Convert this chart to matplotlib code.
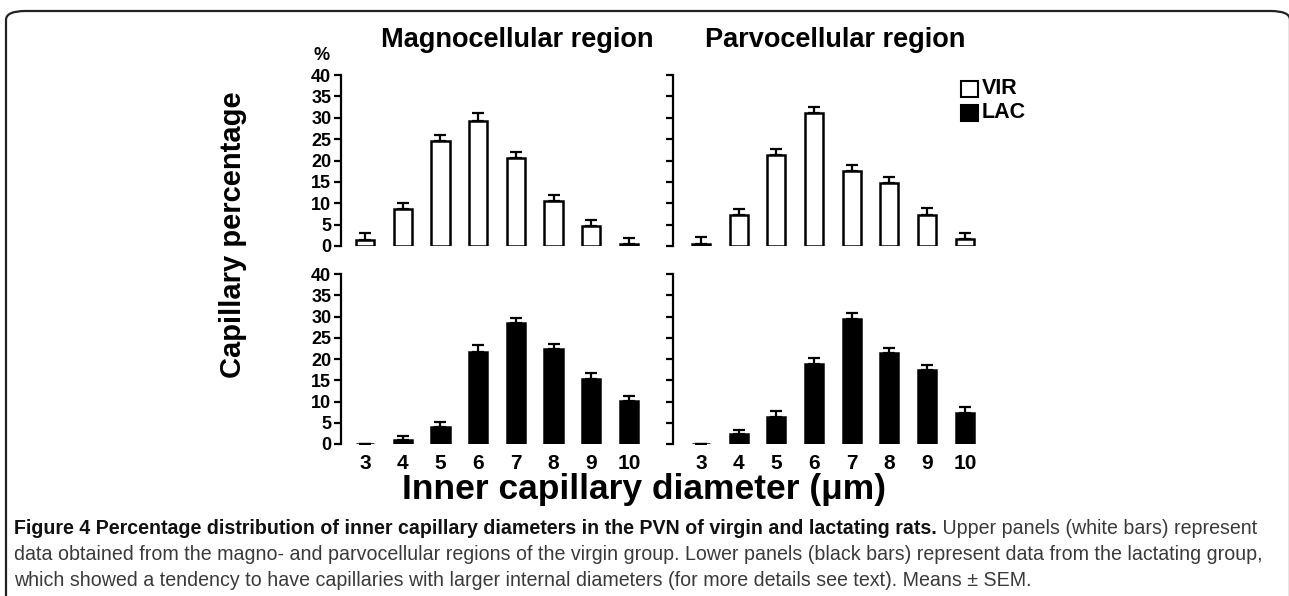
import matplotlib
matplotlib.use("Agg")
import matplotlib.pyplot as plt
from matplotlib.patches import FancyBboxPatch, Rectangle
import numpy as np

plt.rcParams['font.family'] = ['Liberation Sans', 'DejaVu Sans']

# data (percent)
diam = [3, 4, 5, 6, 7, 8, 9, 10]
vir_magno = [1.4, 8.6, 24.6, 29.2, 20.5, 10.5, 4.7, 0.5]
vir_magno_sem = [1.6, 1.4, 1.4, 1.8, 1.6, 1.4, 1.3, 1.3]
vir_parvo = [0.4, 7.2, 21.3, 31.0, 17.5, 14.8, 7.2, 1.6]
vir_parvo_sem = [1.7, 1.4, 1.3, 1.4, 1.5, 1.4, 1.7, 1.4]
lac_magno = [0.0, 0.9, 4.0, 21.7, 28.5, 22.4, 15.3, 10.2]
lac_magno_sem = [0.0, 1.1, 1.1, 1.5, 1.2, 1.2, 1.5, 1.0]
lac_parvo = [0.0, 2.3, 6.4, 18.9, 29.5, 21.4, 17.3, 7.4]
lac_parvo_sem = [0.0, 1.0, 1.3, 1.4, 1.3, 1.3, 1.4, 1.2]

W, H = 1289, 596
fig = plt.figure(figsize=(W / 100, H / 100), dpi=100)

def fx(px):
    return px / W

def fy(py):
    return 1 - py / H

def panel(rect, xlim, vals, sem, color, show_ylab, show_xlab):
    ax = fig.add_axes(rect)
    ax.bar(diam, vals, width=0.48, color=color, edgecolor='black', linewidth=1.8, zorder=2)
    ax.errorbar(diam, vals, yerr=[np.zeros(len(sem)), sem], fmt='none', ecolor='black',
                elinewidth=1.6, capsize=4, capthick=1.6, zorder=1)
    ax.set_xlim(*xlim)
    ax.set_ylim(0, 40)
    for s in ['top', 'right', 'bottom']:
        ax.spines[s].set_visible(False)
    ax.spines['left'].set_linewidth(1.6)
    ax.spines['left'].set_bounds(0, 40)
    ax.set_yticks(range(0, 41, 5))
    ax.tick_params(axis='y', length=5, width=1.6, pad=2, labelsize=13)
    if not show_ylab:
        ax.set_yticklabels([])
    else:
        for t in ax.get_yticklabels():
            t.set_fontweight('bold')
    ax.set_xticks(diam)
    ax.tick_params(axis='x', length=0, pad=7, labelsize=15)
    if show_xlab:
        ax.set_xticklabels([str(d) for d in diam], fontweight='bold')
    else:
        ax.set_xticklabels([])
    return ax

top_b, top_t = fy(246), fy(75)
bot_b, bot_t = fy(444), fy(274)
lx0, lx1 = fx(341), fx(659)
rx0, rx1 = fx(673), fx(995)

panel([lx0, top_b, lx1 - lx0, top_t - top_b], (2.36, 10.8), vir_magno, vir_magno_sem, 'white', True, False)
panel([rx0, top_b, rx1 - rx0, top_t - top_b], (2.26, 10.8), vir_parvo, vir_parvo_sem, 'white', False, False)
panel([lx0, bot_b, lx1 - lx0, bot_t - bot_b], (2.36, 10.8), lac_magno, lac_magno_sem, 'black', True, True)
panel([rx0, bot_b, rx1 - rx0, bot_t - bot_b], (2.26, 10.8), lac_parvo, lac_parvo_sem, 'black', False, True)

# titles and labels
fig.text(fx(517), fy(40), 'Magnocellular region', ha='center', va='center', fontsize=19.5, fontweight='bold')
fig.text(fx(835), fy(40), 'Parvocellular region', ha='center', va='center', fontsize=19.5, fontweight='bold')
fig.text(fx(322), fy(56), '%', ha='center', va='center', fontsize=13, fontweight='bold')
fig.text(fx(233), fy(235), 'Capillary percentage', ha='center', va='center', rotation=90,
         fontsize=21, fontweight='bold')
fig.text(fx(644), fy(490), 'Inner capillary diameter (\u03bcm)', ha='center', va='center',
         fontsize=25.5, fontweight='bold')

# legend
for i, (lab, col) in enumerate([('VIR', 'white'), ('LAC', 'black')]):
    yc = 89 + i * 24
    fig.patches.append(Rectangle((fx(961), fy(yc + 8)), fx(17), fy(yc - 8) - fy(yc + 8),
                                 facecolor=col, edgecolor='black', linewidth=1.5,
                                 transform=fig.transFigure, figure=fig))
    fig.text(fx(982), fy(yc), lab, ha='left', va='center', fontsize=15.5, fontweight='bold')

# frame
fig.patches.append(FancyBboxPatch((fx(6), fy(640)), fx(1290 - 6), fy(11) - fy(640),
                                  boxstyle='round,pad=0,rounding_size=0.015',
                                  facecolor='none', edgecolor='#222222', linewidth=1.6,
                                  transform=fig.transFigure, figure=fig))

# caption
bold_part = 'Figure 4 Percentage distribution of inner capillary diameters in the PVN of virgin and lactating rats.'
rest1 = ' Upper panels (white bars) represent'
line2 = 'data obtained from the magno- and parvocellular regions of the virgin group. Lower panels (black bars) represent data from the lactating group,'
line3 = 'which showed a tendency to have capillaries with larger internal diameters (for more details see text). Means \u00b1 SEM.'

# fit caption size to the width the reference uses
probe = fig.text(0, 0, line2, fontsize=12)
fig.canvas.draw()
cap_size = 12 * (1248 / probe.get_window_extent().width)
probe.remove()

t1 = fig.text(fx(14), fy(528), bold_part, ha='left', va='center', fontsize=cap_size,
              fontweight='bold', color='#111111')
fig.canvas.draw()
bb = t1.get_window_extent()
fig.text(bb.x1 / W, fy(528), rest1, ha='left', va='center', fontsize=cap_size, color='#3a3a3a')
fig.text(fx(14), fy(554), line2, ha='left', va='center', fontsize=cap_size, color='#3a3a3a')
fig.text(fx(14), fy(580), line3, ha='left', va='center', fontsize=cap_size, color='#3a3a3a')

fig.savefig('out.png', dpi=100)
